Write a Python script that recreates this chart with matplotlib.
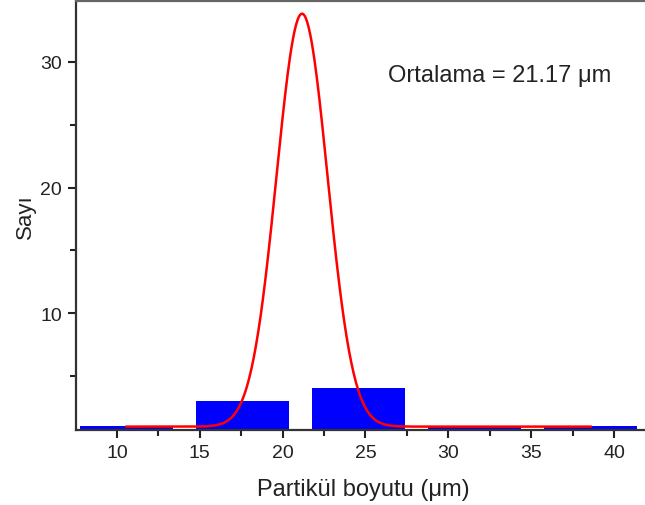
import numpy as np
import matplotlib
matplotlib.use("Agg")
import matplotlib.pyplot as plt
from matplotlib.ticker import MultipleLocator

plt.rcParams["font.family"] = ["Liberation Sans", "DejaVu Sans"]

# histogram bins (centres), counts, bar width
bin_centers = [10.58, 17.58, 24.58, 31.58, 38.58]
counts = [1, 3, 4, 1, 1]
bar_width = 5.6

# gaussian fit
fit_xc = 21.17
fit_w = 1.54
fit_A = 32.9
fit_y0 = 0.95
fit_range = (10.58, 38.58)

fig = plt.figure(figsize=(6.45, 5.06), dpi=100)
ax = fig.add_axes([76 / 645, 75 / 506, 574 / 645, 429 / 506])

ax.bar(bin_centers, counts, width=bar_width, color="#0000ff", edgecolor="none", zorder=2)

xf = np.linspace(fit_range[0], fit_range[1], 600)
yf = fit_y0 + fit_A * np.exp(-((xf - fit_xc) ** 2) / (2 * fit_w ** 2))
ax.plot(xf, yf, color="#ff0000", lw=1.8, zorder=3)

ax.set_xlim(7.53, 42.17)
ax.set_ylim(0.68, 34.86)

ax.xaxis.set_major_locator(MultipleLocator(5))
ax.xaxis.set_minor_locator(MultipleLocator(2.5))
ax.yaxis.set_major_locator(MultipleLocator(10))
ax.yaxis.set_minor_locator(MultipleLocator(5))
ax.tick_params(which="major", direction="out", length=6, width=1.5, labelsize=14,
               colors="#222222", pad=4)
ax.tick_params(which="minor", direction="out", length=4, width=1.5, colors="#222222")
ax.tick_params(top=False, right=False, which="both")

for side in ["left", "bottom", "top"]:
    ax.spines[side].set_linewidth(1.6)
    ax.spines[side].set_color("#333333")
ax.spines["top"].set_color("#666666")
ax.spines["right"].set_visible(False)

ax.set_xlabel("Partikül boyutu (μm)", fontsize=17, labelpad=12, color="#222222")
ax.set_ylabel("Sayı", fontsize=16, labelpad=3, color="#222222")

ax.text(33.1, 29.0, "Ortalama = 21.17 μm", fontsize=17, ha="center", va="center",
        color="#222222")

fig.savefig("out.png", dpi=100)
